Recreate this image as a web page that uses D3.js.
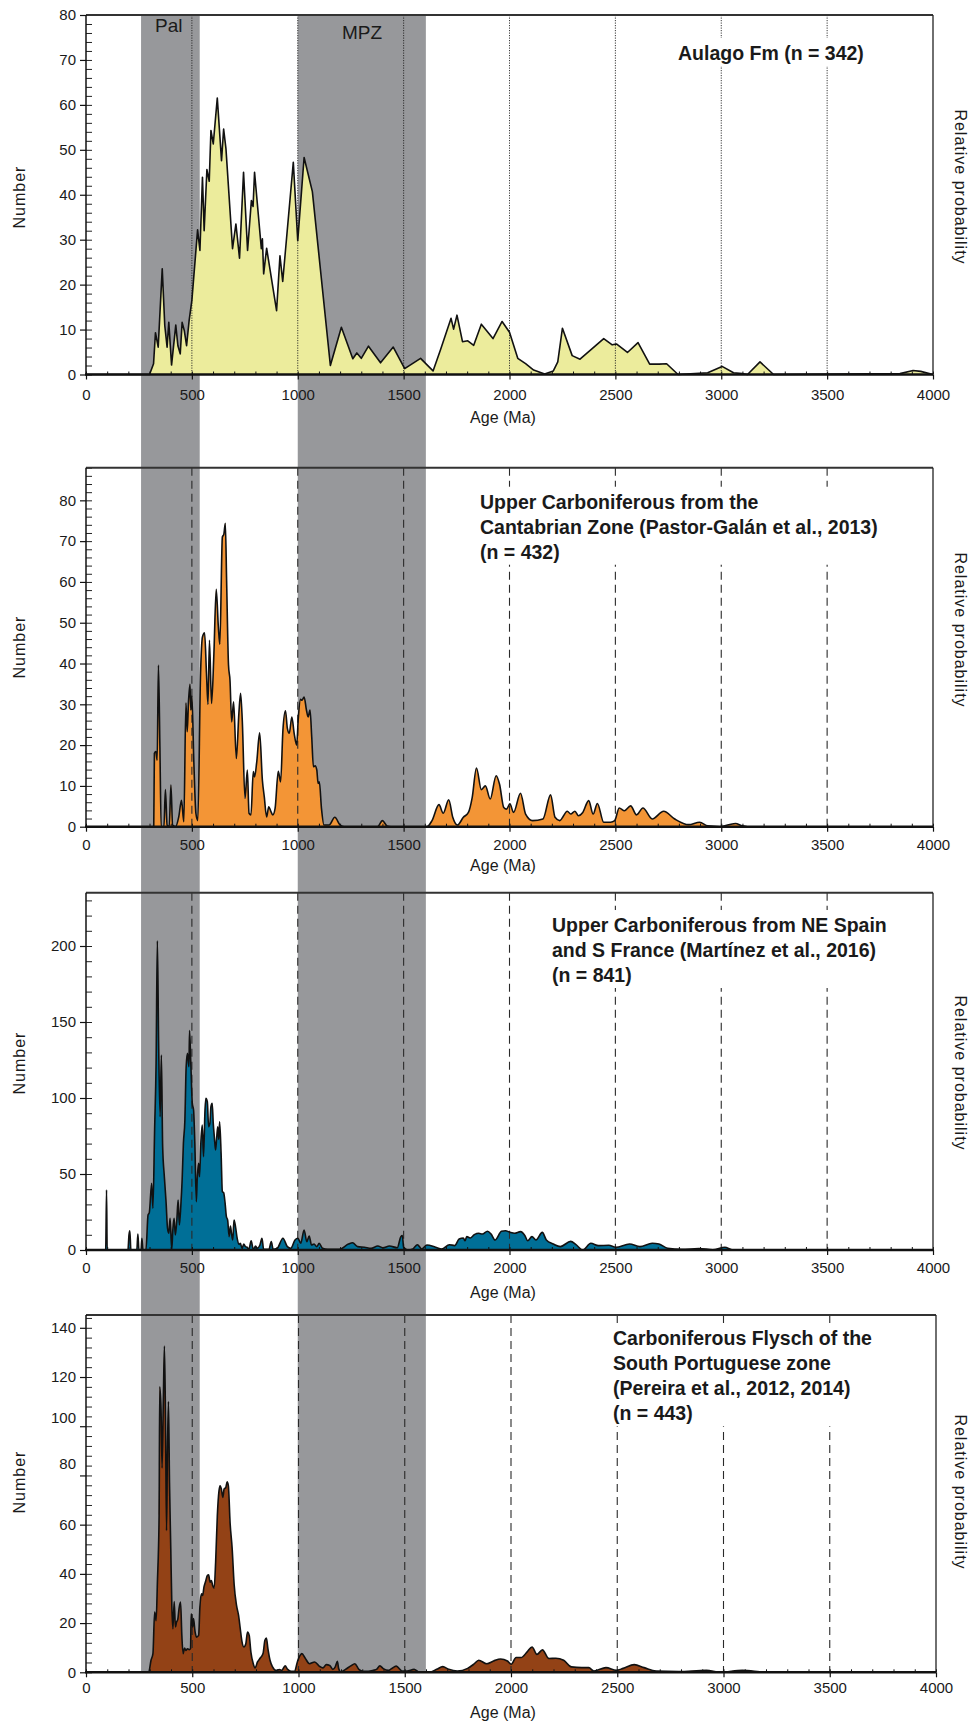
<!DOCTYPE html>
<html><head><meta charset="utf-8">
<script src="https://cdn.jsdelivr.net/npm/d3@7"></script>
<style>
body{margin:0;background:#fff;}
svg text{font-family:"Liberation Sans",Arial,Helvetica,sans-serif;fill:#1a1a1a;}
</style></head><body>
<svg id="chart" width="971" height="1722"></svg>
<script>
// ---------------- DATA ----------------
const ageTicks = [0,500,1000,1500,2000,2500,3000,3500,4000];
const ageMinorStep = 100;
const refLines = [500,1000,1500,2000,2500,3000,3500];
const bandNames = ["Pal","MPZ"];
const bandFrom  = [260,1000];
const bandTo    = [537,1605];

const titles1 = ["Aulago Fm (n = 342)"];
const titles2 = ["Upper Carboniferous from the","Cantabrian Zone (Pastor-Galán et al., 2013)","(n = 432)"];
const titles3 = ["Upper Carboniferous from NE Spain","and S France (Martínez et al., 2016)","(n = 841)"];
const titles4 = ["Carboniferous Flysch of the","South Portuguese zone","(Pereira et al., 2012, 2014)","(n = 443)"];

const yTicks1 = [0,10,20,30,40,50,60,70,80];
const yTicks2 = [0,10,20,30,40,50,60,70,80];
const yTicks3 = [0,50,100,150,200];
const yTicks4 = [0,20,40,60,80,100,120,140];
const yMinor = [2,2,10,4];
const yMax = [80,88,235,145.2];

const aulago = [[0,0],[300,0],[319,2.4],[328,9.3],[341,6.1],[360,23.5],[372,10.9],[383,6.1],[391,11.6],[404,2.1],[424,11.0],[434,6.4],[445,4.6],[454,11.6],[464,9.8],[475,6.4],[487,12],[500,16.5],[527,32.2],[538,27.6],[550,43.9],[558,32],[571,45.6],[582,43],[590,54.3],[601,51.3],[620,61.5],[640,47.6],[650,54.6],[661,50.2],[692,28],[708,33.5],[725,25.9],[744,45],[763,27.6],[781,38.7],[789,37.4],[796,45],[828,28],[833,30.2],[839,22.4],[853,28.1],[900,14.2],[916,26.4],[929,20.7],[979,47.2],[1000,29.8],[1030,48.3],[1069,40.7],[1154,2],[1206,10.5],[1260,3.5],[1279,4.8],[1300,3.6],[1334,6.3],[1391,2.6],[1451,6.1],[1505,1.3],[1580,3.6],[1639,0.8],[1675,5.6],[1724,12.5],[1736,10.1],[1752,13.2],[1778,7.3],[1803,7.5],[1831,6.5],[1867,11.2],[1922,8],[1965,11.8],[2000,9.4],[2039,3.6],[2076,2.4],[2114,1],[2166,0.1],[2207,0.8],[2228,2.8],[2250,10.3],[2296,4.2],[2333,3.4],[2445,8],[2485,6.6],[2505,6.8],[2557,4.9],[2607,7.1],[2662,2.3],[2706,2.3],[2742,2.4],[2796,0],[2936,0.4],[3004,1.8],[3058,0.4],[3099,0.2],[3124,0],[3183,2.8],[3247,0],[3844,0.2],[3906,0.9],[3942,0.7],[4000,0]];

const cantabrian = [[0,0],[317,0],[320,0.2],[323,18],[330,18.4],[336,16.3],[342,39.6],[349,19.6],[355,0],[368,0],[375,9.1],[383,0.4],[393,0],[401,10.2],[409,0.4],[423,0],[438,2.4],[451,6.5],[462,1.2],[472,30.4],[478,23.3],[484,30.6],[491,34.9],[495,28.6],[500,32],[509,16.3],[519,3.3],[528,1.5],[541,37.6],[550,46.5],[560,47.5],[569,37.6],[576,30],[583,45.7],[593,30.2],[604,42.4],[615,58.2],[625,49],[632,44.7],[644,71],[651,71.7],[658,74.4],[664,60.4],[673,39.6],[680,35.9],[688,25.7],[697,30.6],[710,16.7],[722,27.8],[730,32.7],[738,26.1],[751,6.9],[762,13.9],[770,3.3],[779,2.9],[790,13.5],[796,12.2],[806,15.7],[820,23],[833,11.4],[842,7.3],[853,2.4],[863,4.9],[872,3.9],[882,2.9],[893,4.5],[908,13.6],[919,11],[930,23.7],[942,28.4],[951,24.1],[960,22.9],[972,26.9],[983,22.9],[995,20],[1002,26.1],[1013,31.2],[1020,31],[1030,31.8],[1041,28.6],[1049,26.9],[1058,28.6],[1066,22],[1074,14.7],[1082,14.9],[1090,13.9],[1096,10.6],[1102,11],[1112,4.5],[1124,0.4],[1148,0.4],[1175,2.3],[1200,0.4],[1219,0],[1377,0],[1400,1.5],[1421,0.2],[1440,0],[1610,0],[1634,1.5],[1667,5.4],[1687,3.3],[1713,6.6],[1732,2.3],[1754,0.4],[1782,2.3],[1806,3.5],[1824,7.2],[1844,14.4],[1867,9.1],[1886,10],[1909,6.8],[1937,12.5],[1953,10.4],[1973,4.7],[1986,4.3],[2002,5.6],[2019,3.5],[2052,8.2],[2076,3.1],[2109,1.5],[2158,1.9],[2194,7.8],[2215,2.3],[2237,1.5],[2273,3.8],[2289,3.1],[2309,3.8],[2325,2.7],[2346,3.5],[2374,6.4],[2395,3.1],[2415,5.7],[2445,1.1],[2477,1.1],[2497,1.5],[2518,4.6],[2543,3.9],[2572,5.1],[2600,2.9],[2630,4.6],[2674,1.9],[2728,3.8],[2780,1.9],[2846,0.5],[2898,1.1],[2936,0.2],[2993,0],[3067,0.8],[3099,0.2],[3124,0],[4000,0]];

const neSpain = [[0,0],[93,0],[97,39.5],[100,0],[198,0],[203,9.9],[207,12.7],[212,0],[240,0],[245,10.5],[250,0],[260,0],[264,7.7],[269,0],[283,0],[293,23],[299,24.6],[310,43.9],[316,27.4],[324,79],[331,122.8],[337,203.5],[343,136],[350,87.7],[356,128.3],[362,68],[370,48.2],[378,31.8],[385,14.3],[391,11],[397,20.8],[405,0.4],[410,13.2],[416,20.8],[422,9.9],[429,19.7],[435,32.9],[441,16.4],[448,29.6],[454,46],[460,70.2],[467,85.5],[473,120.6],[479,129.4],[486,120.6],[489,144.3],[495,122.8],[502,96.5],[508,92.1],[514,70.2],[521,31.8],[525,46],[532,57],[536,48.2],[543,72.4],[549,82.2],[555,61.4],[562,92.1],[566,99.8],[573,97.6],[579,81.1],[585,83.3],[590,94.3],[596,96.5],[601,83.3],[606,74.6],[612,65.8],[617,73.5],[622,81.1],[627,72.8],[631,84.4],[638,63.6],[644,38.4],[650,37.7],[657,30.7],[663,21.9],[669,19.7],[676,8.8],[682,15.8],[687,11],[693,6.6],[699,19.7],[706,15.4],[714,7.7],[723,3.7],[729,4.4],[737,1.1],[745,3.9],[753,2.2],[761,1.8],[769,0.4],[780,6.1],[790,0.4],[801,2.6],[808,1.1],[821,3.1],[831,7.7],[839,0.4],[864,0.4],[875,5.5],[884,0.4],[903,1.1],[930,7.7],[951,2.2],[967,1.1],[987,6.6],[1001,7.7],[1014,4.4],[1030,13.2],[1043,5.5],[1054,9.2],[1065,3.3],[1077,3.9],[1090,2.2],[1101,4.4],[1117,1.1],[1141,0.4],[1196,0.4],[1239,3.9],[1259,4.8],[1283,2.2],[1315,1.8],[1346,1.1],[1378,2.6],[1402,1.5],[1433,2.6],[1470,1.5],[1487,8.8],[1494,9.5],[1500,1.8],[1520,0],[1544,0.7],[1565,3.5],[1585,0.7],[1610,3.3],[1651,1.8],[1680,0.7],[1716,3.5],[1741,2.9],[1762,7.2],[1782,7.9],[1790,6.1],[1798,8.8],[1814,7.9],[1834,10.1],[1855,11],[1872,10.5],[1896,12.3],[1913,10.5],[1932,6.6],[1962,12.3],[1981,12.7],[2003,11.6],[2024,11],[2052,12.1],[2073,9.4],[2086,6.1],[2106,8.8],[2125,6.6],[2155,11.6],[2174,6.6],[2207,3.9],[2240,2.2],[2289,5.7],[2314,3.5],[2346,0],[2384,4.4],[2420,2.9],[2469,3.1],[2502,1.8],[2567,3.9],[2616,2.2],[2674,4.4],[2706,3.9],[2747,1.1],[2813,0.4],[2895,0.9],[2960,0.2],[3017,1.8],[3050,0.2],[3075,0],[4000,0]];

const southPortuguese = [[0,0],[295,0],[306,4.9],[315,7.6],[323,24.5],[330,21],[336,36.6],[344,63.6],[347,116],[353,107],[358,83],[364,111],[369,132.6],[374,104],[379,57.6],[383,88],[388,110],[393,77],[399,50],[404,27],[409,17.7],[415,28.8],[421,18.4],[426,20.4],[432,21.5],[438,26],[445,28.5],[451,15],[457,7.6],[464,9.9],[470,8.9],[478,9.6],[486,9.2],[492,9.6],[495,23.8],[502,18.4],[506,21.8],[513,16.6],[520,14.3],[530,15],[536,26.5],[543,31.9],[549,31.2],[555,34.6],[563,37],[571,39.3],[577,39.6],[584,36.6],[590,37.3],[596,35.3],[603,34.2],[610,44.7],[618,63.6],[626,73.8],[631,75.8],[637,74.5],[644,71.1],[650,74.5],[658,75.1],[664,77.4],[670,75.8],[678,60.9],[688,50.1],[697,35.9],[708,27.4],[718,23.1],[726,17.7],[733,13],[743,10.3],[752,11.6],[760,16.4],[768,15],[776,8.2],[787,3.5],[796,1.8],[807,4.2],[820,5.8],[833,7.6],[842,13],[849,13.9],[856,9.6],[866,4.9],[878,2.2],[894,0.8],[910,1.1],[921,0.8],[937,2.6],[949,1.2],[965,0.4],[981,0.4],[997,4.9],[1016,7.6],[1031,5.8],[1052,3.5],[1076,4.2],[1099,2.4],[1115,1.8],[1131,3.1],[1147,2.8],[1162,1.2],[1173,2.2],[1183,4.5],[1189,1.5],[1199,0.1],[1221,1.2],[1246,2.6],[1265,3.5],[1284,1.2],[1304,0.4],[1328,0.4],[1352,0.8],[1367,1.2],[1383,2.6],[1399,1.5],[1423,0.8],[1438,1.5],[1460,2.5],[1487,0.5],[1511,0.5],[1544,1.2],[1568,0.1],[1617,0.1],[1650,1.2],[1679,2.3],[1707,1.2],[1747,0.5],[1796,1.6],[1825,3.3],[1848,4.9],[1886,3.5],[1918,4.6],[1951,5.4],[1983,4.6],[2001,3.3],[2024,6],[2048,6],[2076,8.3],[2099,10.3],[2122,7.3],[2148,9.1],[2178,5.6],[2211,5.7],[2248,4.9],[2284,2.2],[2333,1.9],[2366,1.9],[2390,0.5],[2447,1.9],[2496,0.8],[2528,1.6],[2580,3.1],[2626,1.9],[2683,0.5],[2789,0.3],[2919,0.8],[2984,0.1],[3089,0.8],[3195,0.1],[3277,0],[4000,0]];

// ---------------- LAYOUT / STYLE ----------------
const panels = [
  {data:aulago, fill:"#ecec9c", ticks:yTicks1, titles:titles1, curve:d3.curveLinear, dotted:true,
   top:15, bottom:374.5, x0:86, x1:933, tickLabY:395, ageY:417, numY:197, relY:187, titleX:678, titleY:53, labOff:{}},
  {data:cantabrian, fill:"#f39536", ticks:yTicks2, titles:titles2, curve:d3.curveMonotoneX, dotted:false,
   top:467.7, bottom:826.7, x0:86, x1:933, tickLabY:845, ageY:865, numY:647, relY:630, titleX:480, titleY:501.7, labOff:{}},
  {data:neSpain, fill:"#006f97", ticks:yTicks3, titles:titles3, curve:d3.curveMonotoneX, dotted:false,
   top:892.8, bottom:1250, x0:86, x1:933, tickLabY:1268, ageY:1292, numY:1063, relY:1073, titleX:552, titleY:925, labOff:{}},
  {data:southPortuguese, fill:"#934216", ticks:yTicks4, titles:titles4, curve:d3.curveMonotoneX, dotted:false,
   top:1315, bottom:1672.3, x0:86, x1:936, tickLabY:1688, ageY:1712, numY:1482, relY:1492, titleX:613, titleY:1338.3, labOff:{100:-9,80:-12}}
];

const svg = d3.select("#chart");
const xBand = d3.scaleLinear().domain([0,4000]).range([86,933]);

// grey bands spanning all panels
const gBands = svg.append("g");
bandNames.forEach((n,i)=>{
  gBands.append("rect")
    .attr("x", xBand(bandFrom[i])).attr("width", xBand(bandTo[i]) - xBand(bandFrom[i]))
    .attr("y", panels[0].top).attr("height", panels[3].bottom - panels[0].top)
    .attr("fill", "#97989b");
});

panels.forEach((p,pi)=>{
  const x = d3.scaleLinear().domain([0,4000]).range([p.x0,p.x1]);
  const y = d3.scaleLinear().domain([0,yMax[pi]]).range([p.bottom,p.top]);
  const g = svg.append("g");

  const area = d3.area().x(d=>x(d[0])).y0(y(0)).y1(d=>y(d[1])).curve(p.curve);
  const line = d3.line().x(d=>x(d[0])).y(d=>y(d[1])).curve(p.curve);
  g.append("path").attr("d", area(p.data)).attr("fill", p.fill);

  // reference lines
  g.selectAll(".ref").data(refLines).enter().append("line")
    .attr("x1", d=>x(d)).attr("x2", d=>x(d)).attr("y1", p.top).attr("y2", p.bottom)
    .attr("stroke", p.dotted ? "#222" : "#2a2a2a")
    .attr("stroke-width", p.dotted ? 0.9 : 1.1)
    .attr("stroke-dasharray", p.dotted ? "1.2,1.3" : "8,5");

  g.append("path").attr("d", line(p.data)).attr("fill","none")
    .attr("stroke","#111").attr("stroke-width",1.6).attr("stroke-linejoin","round");

  // title with white box
  const fs = 19.5, lh = 25;
  const tg = g.append("g");
  const tt = tg.append("text").attr("font-size", fs).attr("font-weight","bold");
  p.titles.forEach((t,i)=>{
    tt.append("tspan").attr("x", p.titleX).attr("y", p.titleY + i*lh + fs*0.36).text(t);
  });
  const bb = tt.node().getBBox();
  tg.insert("rect","text").attr("x", bb.x-4).attr("y", bb.y-4).attr("width", bb.width+8).attr("height", bb.height+6).attr("fill","#fff");

  // y axis
  const minors = d3.range(0, yMax[pi]+0.001, yMinor[pi]).filter(v=>!p.ticks.includes(v));
  const yAxOut = d3.axisLeft(y).tickValues(p.ticks).tickSize(6).tickPadding(4).tickFormat(d3.format("d"));
  const ya = g.append("g").attr("transform",`translate(${p.x0},0)`).call(yAxOut);
  ya.select(".domain").remove();
  ya.selectAll("line").attr("stroke","#111").attr("stroke-width",1.2);
  ya.selectAll("text").attr("font-size",15).attr("fill","#1a1a1a")
    .attr("transform", d=> p.labOff[d] ? `translate(0,${p.labOff[d]})` : null);
  const yIn = g.append("g").attr("transform",`translate(${p.x0},0)`)
    .call(d3.axisRight(y).tickValues(minors.concat(p.ticks)).tickSize(6).tickFormat(""));
  yIn.select(".domain").remove();
  yIn.selectAll("line").attr("stroke","#222").attr("stroke-width",1);

  // x axis
  const xMinor = d3.range(0, 4001, ageMinorStep);
  const xIn = g.append("g").attr("transform",`translate(0,${p.bottom})`)
    .call(d3.axisTop(x).tickValues(xMinor).tickSize(3).tickFormat(""));
  xIn.select(".domain").remove();
  xIn.selectAll("line").attr("stroke","#111").attr("stroke-width",1);
  const xa = g.append("g").attr("transform",`translate(0,${p.bottom})`)
    .call(d3.axisBottom(x).tickValues(ageTicks).tickSize(5).tickPadding(0).tickFormat(d3.format("d")));
  xa.select(".domain").remove();
  xa.selectAll("line").attr("stroke","#111").attr("stroke-width",1.2);
  xa.selectAll("text").attr("font-size",15).attr("fill","#1a1a1a")
    .attr("y", p.tickLabY - p.bottom).attr("dy","0.35em");

  // frame
  g.append("line").attr("x1",p.x0).attr("x2",p.x1).attr("y1",p.top).attr("y2",p.top).attr("stroke","#333").attr("stroke-width",2);
  g.append("line").attr("x1",p.x1).attr("x2",p.x1).attr("y1",p.top).attr("y2",p.bottom).attr("stroke","#222").attr("stroke-width",1.3);
  g.append("line").attr("x1",p.x0).attr("x2",p.x0).attr("y1",p.top).attr("y2",p.bottom).attr("stroke","#111").attr("stroke-width",1.5);
  g.append("line").attr("x1",p.x0-1).attr("x2",p.x1).attr("y1",p.bottom).attr("y2",p.bottom).attr("stroke","#111").attr("stroke-width",2.6);

  // labels
  g.append("text").attr("x", 503).attr("y", p.ageY).attr("dy","0.35em").attr("text-anchor","middle")
    .attr("font-size",16).text("Age (Ma)");
  g.append("text").attr("transform",`translate(19,${p.numY}) rotate(-90)`).attr("dy","0.35em")
    .attr("text-anchor","middle").attr("font-size",16).attr("letter-spacing",1).text("Number");
  g.append("text").attr("transform",`translate(961,${p.relY}) rotate(90)`).attr("dy","0.35em")
    .attr("text-anchor","middle").attr("font-size",16).attr("letter-spacing",1).text("Relative probability");
});

// band labels (top panel)
const bandLabelY = [25.5, 32.5];
const bandLabelX = [168.7, 362];
bandNames.forEach((n,i)=>{
  svg.append("text").attr("x", bandLabelX[i]).attr("y", bandLabelY[i]).attr("dy","0.35em")
    .attr("text-anchor","middle").attr("font-size",19).text(n);
});
</script>
</body></html>
